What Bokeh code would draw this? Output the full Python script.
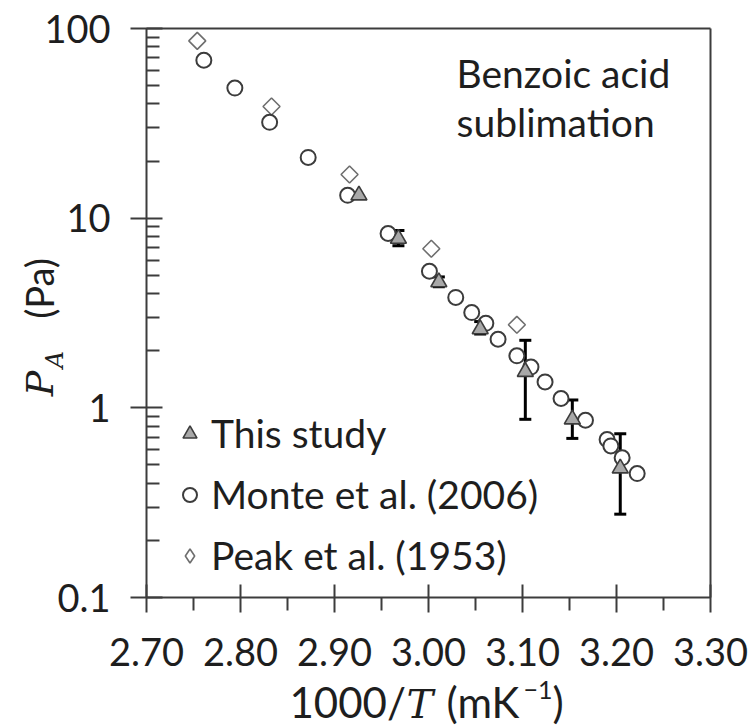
import math
from bokeh.plotting import figure
from bokeh.models import (ColumnDataSource, FixedTicker, NumeralTickFormatter, Label,
                          Legend, LegendItem, Whisker, TeeHead, Range1d, LinearAxis, LogAxis)
from bokeh.embed import file_html
from bokeh.resources import INLINE

# ---------------- data ----------------
this_x = [2.926, 2.968, 3.011, 3.055, 3.103, 3.153, 3.204]
this_y = [13.2, 7.8, 4.6, 2.6, 1.55, 0.87, 0.48]

err_x = [2.968, 3.011, 3.055, 3.103, 3.153, 3.204]
err_lo = [7.15, 4.35, 2.45, 0.87, 0.69, 0.275]
err_hi = [8.6, 4.9, 2.85, 2.27, 1.10, 0.73]

monte_x = [2.761, 2.794, 2.831, 2.872, 2.914, 2.957, 3.001, 3.029, 3.046, 3.061,
           3.074, 3.094, 3.109, 3.124, 3.141, 3.167, 3.190, 3.194, 3.206, 3.222]
monte_y = [68, 48.5, 32, 20.9, 13.2, 8.3, 5.25, 3.82, 3.18, 2.79,
           2.30, 1.88, 1.64, 1.37, 1.12, 0.86, 0.68, 0.63, 0.545, 0.45]

peak_x = [2.754, 2.833, 2.916, 3.003, 3.094]
peak_y = [86, 38.8, 17, 6.9, 2.74]

x_ticks = [2.70, 2.80, 2.90, 3.00, 3.10, 3.20, 3.30]
x_minor = [2.75, 2.85, 2.95, 3.05, 3.15, 3.25]
y_ticks = [0.1, 1, 10, 100]
y_tick_labels = ["0.1", "1", "10", "100"]
y_minor = [m * d for d in [0.1, 1, 10] for m in range(2, 10)]

legend_labels = ["This study", "Monte et al. (2006)", "Peak et al. (1953)"]
annot_lines = ["Benzoic acid", "sublimation"]

# ---------------- geometry (canvas px) ----------------
W, H = 749, 725
FL, FR, FT, FB = 146, 710, 28, 597          # plot box on the canvas
X0, X1 = x_ticks[0], x_ticks[-1]
Y0, Y1 = y_ticks[0], y_ticks[-1]
ppx = (FR - FL) / (X1 - X0)
ppd = (FB - FT) / (math.log10(Y1) - math.log10(Y0))
x_start = X0 - FL / ppx
x_end = X1 + (W - FR) / ppx
y_end = 10 ** (math.log10(Y1) + FT / ppd)
y_start = 10 ** (math.log10(Y0) - (H - FB) / ppd)

FONT = "Lato"
SERIF = "DejaVu Serif"
TXT = "#1e1e1e"
AX = "#3c3c3c"

p = figure(width=W, height=H, y_axis_type="log",
           x_axis_location=None, y_axis_location=None, title_location=None,
           x_range=Range1d(x_start, x_end), y_range=Range1d(y_start, y_end),
           output_backend="svg", toolbar_location=None,
           min_border_left=0, min_border_right=0, min_border_top=0, min_border_bottom=0)
p.grid.visible = False
p.background_fill_color = "white"
p.border_fill_color = "white"
p.outline_line_color = None


def style_line(ax):
    ax.axis_line_width = 2
    ax.axis_line_color = AX
    ax.major_tick_line_width = 2
    ax.minor_tick_line_width = 2
    ax.major_tick_line_color = AX
    ax.minor_tick_line_color = AX


# bottom x axis
xa = LinearAxis(fixed_location=Y0, bounds=(X0, X1),
                ticker=FixedTicker(ticks=x_ticks, minor_ticks=x_minor),
                formatter=NumeralTickFormatter(format="0.00"))
style_line(xa)
xa.major_tick_in = 13
xa.major_tick_out = 15
xa.minor_tick_in = 0
xa.minor_tick_out = 13
xa.major_label_text_font = FONT
xa.major_label_text_font_size = "38px"
xa.major_label_text_color = TXT
xa.major_label_standoff = 25
p.add_layout(xa, "below")

# left y axis
ya = LogAxis(fixed_location=X0, bounds=(Y0, Y1),
             ticker=FixedTicker(ticks=y_ticks, minor_ticks=y_minor))
ya.major_label_overrides = {t: s for t, s in zip(y_ticks, y_tick_labels)}
style_line(ya)
ya.major_tick_in = 16
ya.major_tick_out = 16
ya.minor_tick_in = 13
ya.minor_tick_out = 0
ya.major_label_text_font = FONT
ya.major_label_text_font_size = "38px"
ya.major_label_text_color = TXT
ya.major_label_standoff = 20
p.add_layout(ya, "left")

# top and right box edges
ta = LinearAxis(fixed_location=Y1, bounds=(X0, X1), ticker=FixedTicker(ticks=[], minor_ticks=[]))
style_line(ta)
ta.major_label_text_alpha = 0
p.add_layout(ta, "above")
ra = LogAxis(fixed_location=X1, bounds=(Y0, Y1), ticker=FixedTicker(ticks=[], minor_ticks=[]))
style_line(ra)
ra.major_label_text_alpha = 0
p.add_layout(ra, "right")

# ---------------- glyphs ----------------
PEAK_STYLE = dict(fill_color="white", line_color="#6e6e6e", line_width=1.6)
# legend key for the diamond series (sits fully hidden beneath the rotated squares)
r_peak_key = p.scatter(peak_x, peak_y, marker="diamond", size=13, **PEAK_STYLE)
r_peak = p.scatter(peak_x, peak_y, marker="square", angle=math.pi / 4, size=12, **PEAK_STYLE)
r_monte = p.scatter(monte_x, monte_y, marker="circle", size=15, fill_color="white",
                    line_color="#3c3c3c", line_width=2)
r_this = p.scatter(this_x, this_y, marker="triangle", size=16, fill_color="#a8a8a8",
                   line_color="#3c3c3c", line_width=1.6)

esrc = ColumnDataSource(dict(x=err_x, lo=err_lo, hi=err_hi))
wh = Whisker(source=esrc, base="x", upper="hi", lower="lo", dimension="height",
             line_color="black", line_width=3,
             upper_head=TeeHead(size=12, line_color="black", line_width=3),
             lower_head=TeeHead(size=12, line_color="black", line_width=3))
p.add_layout(wh)

# ---------------- legend ----------------
legend = Legend(items=[LegendItem(label=legend_labels[0], renderers=[r_this]),
                       LegendItem(label=legend_labels[1], renderers=[r_monte]),
                       LegendItem(label=legend_labels[2], renderers=[r_peak_key])],
                location=(172, 147), orientation="vertical",
                glyph_width=35, glyph_height=35, label_standoff=4, spacing=15,
                padding=0, margin=0, border_line_color=None, background_fill_alpha=0,
                label_text_font=FONT, label_text_font_size="39px", label_text_color=TXT)
p.add_layout(legend, "center")


# ---------------- texts ----------------
def lab(x, y, text, size, font=FONT, style="normal", align="left", angle=0.0):
    p.add_layout(Label(x=x, y=H - y, x_units="screen", y_units="screen", angle=angle,
                       text=text, text_align=align, text_baseline="middle",
                       text_font=font, text_font_style=style,
                       text_font_size=f"{size}px", text_color=TXT))


lab(456, 72, annot_lines[0], 39)
lab(456, 121, annot_lines[1], 39)

# y axis title: P_A (Pa)
lab(38, 288, "(Pa)", 38, align="center", angle=math.pi / 2)
lab(39, 383, "P", 38, font=SERIF, style="italic", align="center", angle=math.pi / 2)
lab(54, 359, "A", 24, font=SERIF, style="italic", align="center", angle=math.pi / 2)

# x axis title: 1000/T (mK^-1)
lab(289, 701, "1000/", 42)
lab(406, 703, "T", 40, font=SERIF, style="italic")
lab(446, 701, "(mK", 42)
lab(523, 689, "\u22121", 25)
lab(552, 701, ")", 42)

open("out.html", "w").write(file_html(p, INLINE))
